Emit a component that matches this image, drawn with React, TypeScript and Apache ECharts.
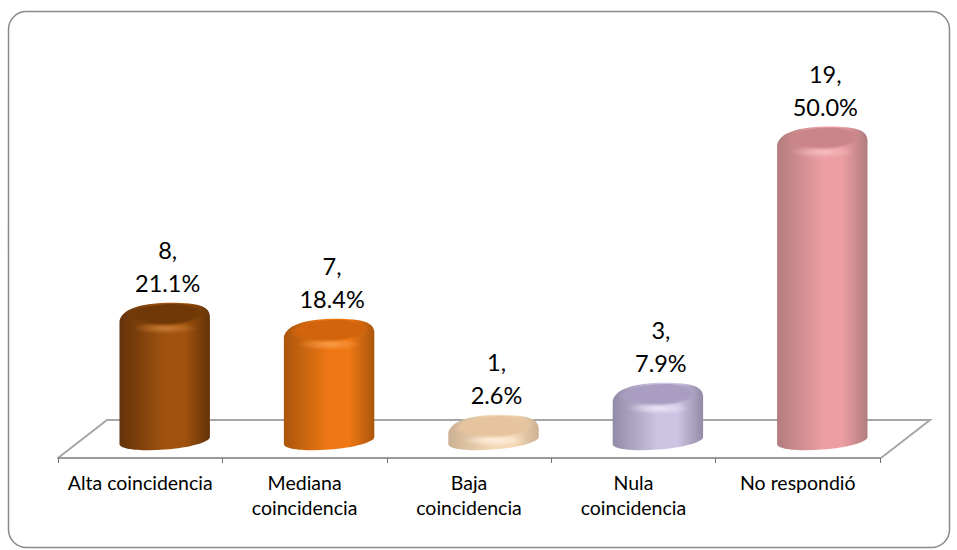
import React, { useEffect, useRef } from "react";
import * as echarts from "echarts";

const categories = ["Alta coincidencia", "Mediana\ncoincidencia", "Baja\ncoincidencia", "Nula\ncoincidencia", "No respondió"];
const counts = [8, 7, 1, 3, 19];
const percents = ["21.1%", "18.4%", "2.6%", "7.9%", "50.0%"];
// edge, centre, top face, highlight
const palette = [
  ["#63330a", "#a0520e", "#6f3806", "#c67a32"],
  ["#ab560c", "#ef7814", "#d1640c", "#f89a48"],
  ["#ccb192", "#f5d9b8", "#e6c49e", "#fdeedd"],
  ["#928ba6", "#cdc3e2", "#a99ec2", "#ebe5f5"],
  ["#b27c7e", "#ec9ea2", "#c98589", "#f4bcbe"],
];
const FONT = "Lato, Carlito, 'Open Sans', sans-serif";

function ell(cx: number, cy: number, rx: number, ry: number, tilt: number) {
  return (u: number, v: number) => `${(cx + u * rx).toFixed(2)} ${(cy + v * ry - u * tilt).toFixed(2)}`;
}
const K = 0.5523;

function renderCylinder(params: any, api: any) {
  const i = api.value(0);
  const val = api.value(1);
  const band = api.size([1, 0])[0];
  const depthShift = band * 0.149;
  const rx = band * 0.275;
  const [x, vy] = api.coord([i, val]);
  const [, y0] = api.coord([i, 0]);
  const cx = x + depthShift;
  const [edge, mid, top, hi] = palette[i];
  const xL = cx - rx;
  const xR = cx + rx;
  const topY = vy - 9.5;
  const b = ell(cx, y0, rx, 9.2, 3.5);
  const body =
    `M ${xL} ${topY + 20} C ${xL} ${topY + 9} ${cx - 30} ${topY + 1} ${cx + 2} ${topY} ` +
    `C ${cx + 30} ${topY} ${xR} ${topY + 2} ${xR} ${topY + 14} L ${b(1, 0)} ` +
    `C ${b(1, K)} ${b(K, 1)} ${b(0, 1)} C ${b(-K, 1)} ${b(-1, K)} ${b(-1, 0)} Z`;
  const t = ell(cx, vy + 3, rx * 0.86, 11, 3);
  const face =
    `M ${t(1, 0)} C ${t(1, K)} ${t(K, 1)} ${t(0, 1)} C ${t(-K, 1)} ${t(-1, K)} ${t(-1, 0)} ` +
    `C ${t(-1, -K)} ${t(-K, -1)} ${t(0, -1)} C ${t(K, -1)} ${t(1, -K)} ${t(1, 0)} Z`;
  return {
    type: "group",
    children: [
      {
        type: "path",
        shape: { pathData: body },
        style: {
          fill: {
            type: "linear", x: 0, y: 0, x2: 1, y2: 0,
            colorStops: [
              { offset: 0, color: edge },
              { offset: 0.5, color: mid },
              { offset: 0.72, color: mid },
              { offset: 1, color: edge },
            ],
          },
        },
      },
      {
        type: "ellipse",
        shape: { cx: cx + 1, cy: vy + 16, rx: rx * 0.72, ry: 6 },
        style: {
          fill: {
            type: "radial", x: 0.5, y: 0.5, r: 0.5,
            colorStops: [
              { offset: 0, color: hi },
              { offset: 1, color: hi + "00" },
            ],
          },
        },
      },
      {
        type: "path",
        shape: { pathData: face },
        style: {
          fill: {
            type: "radial", x: 0.5, y: 0.42, r: 0.56,
            colorStops: [
              { offset: 0, color: top },
              { offset: 0.72, color: top },
              { offset: 1, color: top + "00" },
            ],
          },
        },
      },
      {
        type: "text",
        style: {
          text: `${counts[i]},\n${percents[i]}`,
          x: cx + 3,
          y: vy - 46,
          align: "center",
          verticalAlign: "middle",
          lineHeight: 33,
          font: `23.5px ${FONT}`,
          fill: "#000",
        },
      },
    ],
  };
}

export default function App() {
  const ref = useRef<HTMLDivElement>(null);
  useEffect(() => {
    const chart = echarts.init(ref.current!, null, { renderer: "svg" });
    chart.setOption({
      animation: false,
      backgroundColor: "#fff",
      graphic: [
        {
          type: "rect",
          shape: { x: 8.5, y: 11.5, width: 941, height: 536, r: 18 },
          style: { fill: "#fff", stroke: "#8a8a8a", lineWidth: 1.5 },
          z: -2,
        },
        {
          type: "polyline",
          shape: { points: [[58, 458], [107, 420], [930, 420], [881, 458]] },
          style: { fill: "none", stroke: "#a6a6a6", lineWidth: 2 },
          z: -1,
        },
      ],
      grid: { left: 58, width: 822, top: 40, height: 418 },
      xAxis: {
        type: "category",
        data: categories,
        axisLine: { show: true, onZero: false, lineStyle: { color: "#9a9a9a", width: 2 } },
        axisTick: { show: true, alignWithLabel: false, interval: 0, inside: false, length: 5, lineStyle: { color: "#707070", width: 1 } },
        axisLabel: { color: "#000", fontFamily: FONT, fontSize: 19.5, lineHeight: 25, margin: 12, interval: 0 },
      },
      yAxis: { type: "value", min: -1.1, max: 25, show: false },
      series: [
        {
          type: "custom",
          renderItem: renderCylinder,
          data: counts.map((v, i) => [i, v]),
          encode: { x: 0, y: 1 },
          clip: false,
        },
      ],
    });
    return () => chart.dispose();
  }, []);
  return <div ref={ref} style={{ position: "fixed", left: 0, top: 0, width: 957, height: 550 }} />;
}
